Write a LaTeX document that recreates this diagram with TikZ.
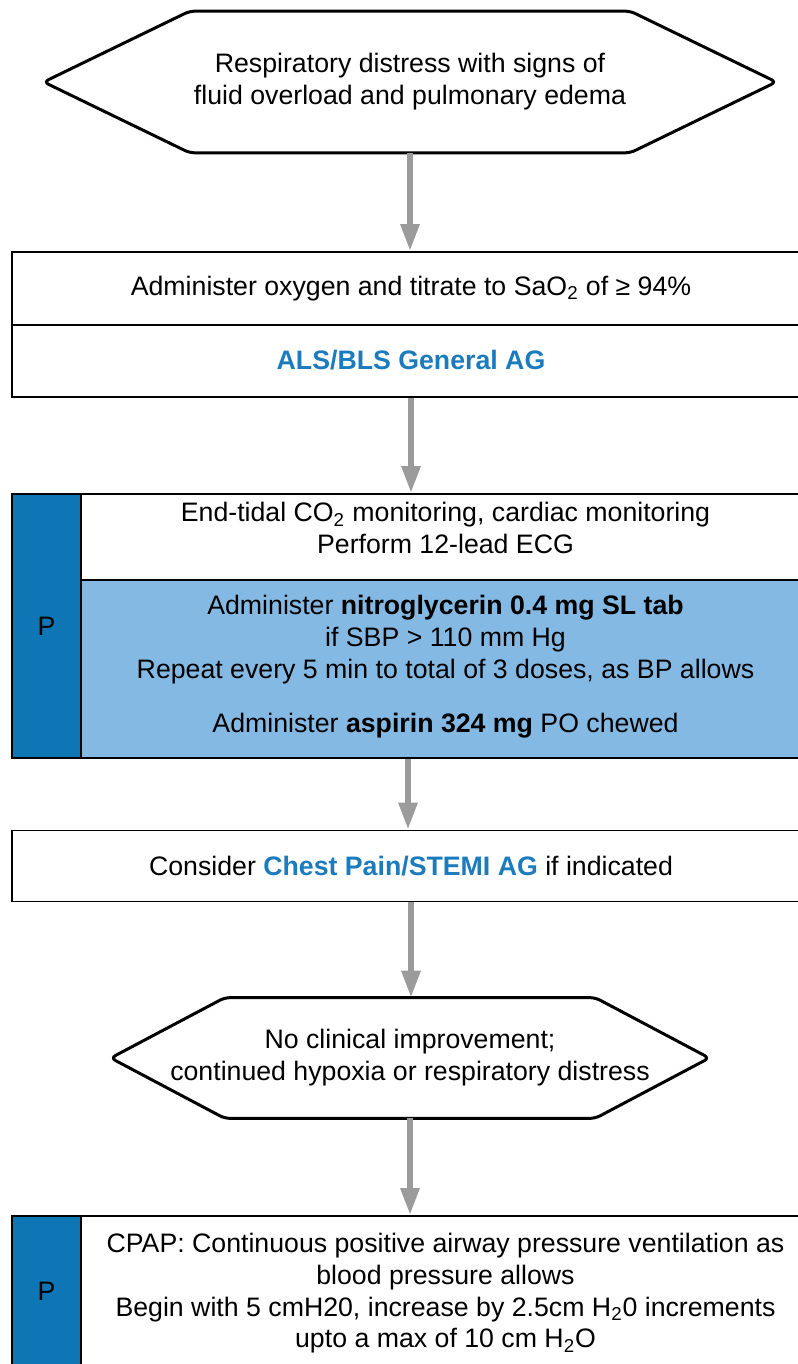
\documentclass[tikz,border=0pt]{standalone}
\usepackage{fontspec}
\setmainfont{Liberation Sans}
\usetikzlibrary{arrows.meta}
\definecolor{pblue}{HTML}{0E76B5}
\definecolor{lightblue}{HTML}{84B9E3}
\definecolor{linkblue}{HTML}{1B7BBD}
\definecolor{arrowgray}{HTML}{9B9B9B}
\begin{document}
\begin{tikzpicture}[x=0.02cm, y=-0.02cm,
  txt/.style={align=center, inner sep=0pt, font=\fontsize{15.2}{18.2}\selectfont},
  box/.style={txt, draw, line width=1.1pt},
  hexline/.style={line width=1.7pt, rounded corners=3pt},
  pcol/.style={box, fill=pblue, minimum width=1.38cm},
  flow/.style={draw=arrowgray, line width=3.4pt, -{Triangle[width=0.36cm,length=0.54cm]}},
  link/.style={text=linkblue, font=\fontsize{15.2}{18.2}\selectfont\bfseries}]
\useasboundingbox (0,0) rectangle (797,1364);
\node [txt, minimum width=14.64cm, minimum height=2.82cm] (distress) at (410,82)
  {Respiratory distress with signs of\\fluid overload and pulmonary edema};
\draw [hexline] (distress.west) -- ([xshift=2.92cm]distress.north west) -- ([xshift=-2.92cm]distress.north east)
  -- (distress.east) -- ([xshift=-2.92cm]distress.south east) -- ([xshift=2.92cm]distress.south west) -- cycle;
\node [box, minimum width=15.96cm, minimum height=1.46cm] (oxygen) at (411,288.5)
  {Administer oxygen and titrate to SaO\textsubscript{2} of ≥ 94\%};
\node [box, link, minimum width=15.96cm, minimum height=1.44cm] (alsbls) at (411,361) {\raisebox{1.5pt}{ALS/BLS General AG}};
\node [pcol, minimum height=5.28cm] (pcol1) at (46.5,626) {P};
\node [box, minimum width=14.58cm, minimum height=1.72cm,
  label={[txt, yshift=5pt]center:{End-tidal CO\textsubscript{2} monitoring, cardiac monitoring\\Perform 12-lead ECG}}]
  (monitor) at (445.5,537) {};
\node [box, fill=lightblue, minimum width=14.58cm, minimum height=3.56cm,
  label={[txt, yshift=1.2pt]center:{Administer \textbf{nitroglycerin 0.4 mg SL tab}\\if SBP > 110 mm Hg\\
   Repeat every 5 min to total of 3 doses, as BP allows\\[12.5pt]
   Administer \textbf{aspirin 324 mg} PO chewed}}]
  (nitro) at (445.5,669) {};
\node [box, minimum width=15.96cm, minimum height=1.42cm] (chest) at (411,866)
  {Consider \textcolor{linkblue}{\bfseries Chest Pain/STEMI AG} if indicated};
\node [txt, minimum width=11.96cm, minimum height=2.4cm] (noimprove) at (410,1058)
  {No clinical improvement;\\continued hypoxia or respiratory distress};
\draw [hexline] (noimprove.west) -- ([xshift=2.28cm]noimprove.north west) -- ([xshift=-2.28cm]noimprove.north east)
  -- (noimprove.east) -- ([xshift=-2.28cm]noimprove.south east) -- ([xshift=2.28cm]noimprove.south west) -- cycle;
\node [pcol, minimum height=3cm] (pcol2) at (46.5,1291) {P};
\node [box, minimum width=14.58cm, minimum height=3cm,
  label={[txt, yshift=-1.2pt]center:{CPAP: Continuous positive airway pressure ventilation as\\blood pressure allows\\
   Begin with 5 cmH20, increase by 2.5cm H\textsubscript{2}0 increments\\
   upto a max of 10 cm H\textsubscript{2}O}}]
  (cpap) at (445.5,1291) {};
\draw [flow] (distress.south) -- (distress.south |- oxygen.north);
\draw [flow] (alsbls.south) -- (alsbls.south |- monitor.north);
\draw [flow] ([xshift=-0.06cm]chest.north |- nitro.south) -- ([xshift=-0.06cm]chest.north);
\draw [flow] (chest.south) -- (chest.south |- noimprove.north);
\draw [flow] (noimprove.south) -- (noimprove.south |- cpap.north);
\end{tikzpicture}
\end{document}
